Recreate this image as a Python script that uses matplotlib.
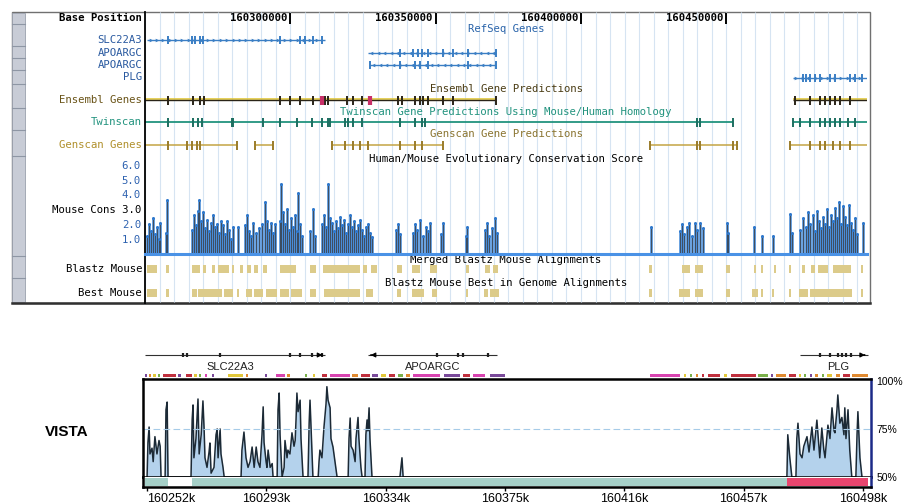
import numpy as np
import matplotlib.pyplot as plt
from matplotlib.patches import Rectangle

W, H = 910, 504
MONO = 'DejaVu Sans Mono'
FS = 7.7

# ── top browser panel (genomic positions in kb) ─────────────────────────────
top_range = (160250.0, 160498.4)
base_ticks = [160300, 160350, 160400, 160450]

slc_span = (160250.7, 160311.9)
slc_exons = [160257.9, 160266.2, 160267.2, 160268.9, 160270.0, 160296.4,
             160303.3, 160305.0, 160307.8, 160310.9]
apo1_span = (160326.7, 160370.7)
apo1_exons = [160337.7, 160342.2, 160343.9, 160345.3, 160347.4, 160352.5,
              160356.0, 160361.1, 160370.7]
apo2_span = (160327.4, 160370.7)
apo2_exons = [160327.4, 160337.7, 160342.9, 160344.6, 160347.4, 160361.1, 160370.7]
plg_span = (160472.9, 160498.4)
plg_exons = [160476.4, 160477.4, 160478.8, 160480.5, 160482.2, 160485.6,
             160487.4, 160492.5, 160494.2, 160496.6]

ens_spans = [(160250.0, 160370.7), (160472.9, 160498.4)]
ens_exons = [160257.9, 160266.5, 160268.9, 160270.3, 160296.4, 160299.9, 160303.3,
             160307.8, 160311.9, 160313.0, 160319.5, 160321.6, 160324.6, 160337.0,
             160338.4, 160342.9, 160344.6, 160345.6, 160347.4, 160352.5, 160356.0,
             160370.7, 160473.6, 160478.8, 160482.2, 160483.9, 160485.6, 160487.4,
             160489.1, 160492.5]
ens_hot = [160310.9, 160327.4]

twin_spans = [(160250.0, 160452.3), (160472.9, 160498.4)]
twin_exons = [160257.9, 160266.5, 160268.2, 160269.6, 160279.9, 160280.3, 160290.6,
              160296.4, 160302.3, 160307.4, 160310.9, 160313.0, 160313.6, 160318.8,
              160319.8, 160321.6, 160324.6, 160337.7, 160342.9, 160345.3, 160346.3,
              160439.9, 160440.9, 160452.3, 160472.9, 160475.3, 160478.8, 160482.2,
              160483.9, 160485.6, 160487.4, 160489.1, 160491.8, 160494.2]

gen_spans = [(160250.0, 160281.6), (160287.8, 160294.0), (160314.3, 160352.5),
             (160423.7, 160453.6), (160471.9, 160498.4)]
gen_exons = [160257.9, 160264.4, 160266.2, 160267.9, 160268.9, 160281.6, 160287.8,
             160294.0, 160314.3, 160318.8, 160321.6, 160324.0, 160326.7, 160337.7,
             160342.9, 160345.3, 160352.5, 160423.7, 160439.9, 160440.9, 160452.3,
             160453.6, 160471.9, 160478.8, 160482.2, 160483.9, 160486.7, 160489.1,
             160492.5]

cons_kb = [160250.7, 160251.4, 160252.1, 160252.8, 160253.4, 160254.1, 160254.8, 160255.2,
           160257.2, 160257.6,
           160266.2, 160266.9, 160267.5, 160268.2, 160268.6, 160269.3, 160270.0, 160270.6,
           160271.3, 160272.0, 160272.7, 160273.4, 160274.1, 160274.8, 160275.5, 160276.1,
           160276.8, 160277.5, 160278.2, 160278.9, 160279.6, 160280.3, 160282.0,
           160284.4, 160285.1, 160285.8, 160286.5, 160287.2, 160288.2, 160289.2, 160290.2,
           160291.3, 160292.0, 160292.7, 160293.3, 160294.0, 160294.7,
           160296.4, 160296.8, 160297.5, 160298.2, 160298.8, 160299.5, 160300.2, 160300.9,
           160301.6, 160302.3, 160302.6, 160303.3, 160304.0,
           160306.8, 160307.8, 160308.5,
           160310.9, 160311.6, 160312.3, 160313.0, 160313.6, 160314.3, 160315.0, 160315.7,
           160316.4, 160317.1, 160317.8, 160318.5, 160319.1, 160319.8, 160320.5, 160321.2,
           160321.9, 160322.6, 160323.3, 160324.0, 160324.6, 160325.3, 160326.0, 160326.7,
           160327.4, 160328.1,
           160336.3, 160337.0, 160337.7,
           160342.2, 160342.9, 160343.6, 160344.6, 160345.6, 160346.7, 160347.4, 160348.0,
           160351.8, 160352.5, 160360.4, 160360.8,
           160367.0, 160367.6, 160368.3, 160369.4, 160370.4, 160371.1,
           160424.1,
           160434.0, 160434.7, 160435.4, 160436.4, 160437.1, 160438.2, 160439.2, 160439.9,
           160440.9, 160442.0,
           160450.2, 160450.6, 160459.5, 160462.2, 160466.0, 160471.9, 160472.6,
           160475.3, 160476.4, 160477.4, 160478.1, 160478.8, 160479.8, 160480.5, 160481.2,
           160481.9, 160482.5, 160483.2, 160483.9, 160484.6, 160485.3, 160486.0, 160486.7,
           160487.4, 160488.0, 160488.7, 160489.4, 160490.1, 160490.8, 160491.5, 160492.2,
           160492.9, 160493.6, 160494.2, 160494.9, 160497.0]
cons_val = [1.2, 2.0, 1.5, 2.4, 1.3, 1.8, 1.0, 2.1,
            1.4, 3.6,
            1.6, 2.6, 1.9, 2.9, 3.6, 2.2, 2.8, 1.7,
            2.3, 1.5, 2.1, 2.6, 1.8, 2.0, 1.4, 2.2,
            1.9, 1.3, 2.2, 1.6, 1.0, 1.8, 1.8,
            1.9, 2.6, 1.5, 1.2, 2.1, 1.4, 1.7, 2.0,
            3.5, 2.2, 1.6, 2.1, 1.4, 2.0,
            2.2, 4.7, 2.8, 2.0, 3.0, 1.6, 2.4, 1.8,
            2.6, 1.5, 4.1, 2.0, 1.2,
            1.5, 3.0, 1.2,
            2.0, 2.6, 1.8, 4.7, 2.4, 2.1, 1.5, 2.2,
            1.7, 2.5, 1.9, 2.3, 1.4, 2.0, 2.6, 1.8,
            2.2, 1.5, 1.9, 2.3, 1.6, 1.2, 1.8, 2.0,
            1.4, 1.1,
            1.6, 2.0, 1.3,
            1.4, 2.0, 1.6, 2.3, 1.2, 1.8, 1.5, 2.1,
            1.3, 2.1, 1.2, 1.8,
            1.6, 2.1, 1.2, 1.7, 2.4, 1.4,
            1.8,
            1.5, 2.0, 1.3, 1.8, 2.1, 1.2, 2.1, 1.6,
            2.1, 1.7,
            2.1, 1.4, 1.8, 1.2, 1.2, 2.7, 1.4,
            1.6, 2.4, 1.8, 2.8, 2.0, 2.6, 1.5, 2.9,
            2.2, 1.7, 2.5, 2.0, 3.0, 1.8, 2.6, 2.2,
            3.1, 2.4, 3.5, 2.0, 3.2, 2.5, 1.9, 3.3,
            2.1, 1.6, 2.4, 1.3, 2.1]

blastz_start = [160250.7, 160257.2, 160266.2, 160270.0, 160273.0, 160275.1, 160279.9, 160282.7,
                160285.1, 160287.5, 160290.6, 160296.4, 160306.8, 160311.2, 160325.0, 160327.7,
                160336.7, 160341.8, 160348.0, 160360.4, 160367.0, 160369.7, 160423.4, 160434.7,
                160439.2, 160449.9, 160459.5, 160461.9, 160466.4, 160471.5, 160476.0, 160479.1,
                160481.5, 160486.7, 160496.3]
blastz_end = [160254.1, 160258.3, 160268.9, 160271.0, 160274.1, 160278.9, 160280.6, 160283.7,
              160286.5, 160288.9, 160292.0, 160301.9, 160308.8, 160324.0, 160326.4, 160329.8,
              160338.4, 160344.6, 160350.4, 160361.5, 160368.7, 160371.4, 160424.4, 160437.5,
              160442.0, 160451.2, 160460.2, 160462.6, 160467.1, 160472.2, 160477.0, 160480.5,
              160485.0, 160492.9, 160497.0]
best_start = [160250.7, 160257.2, 160266.2, 160268.2, 160277.2, 160281.6, 160284.7, 160287.5,
              160291.6, 160296.4, 160300.2, 160306.8, 160311.6, 160326.0, 160336.7, 160341.8,
              160348.7, 160360.4, 160366.6, 160368.7, 160423.4, 160433.7, 160439.2, 160449.9,
              160458.8, 160461.9, 160465.7, 160471.5, 160475.0, 160478.8, 160496.3]
best_end = [160254.1, 160258.3, 160267.9, 160276.5, 160280.3, 160282.3, 160286.8, 160290.6,
            160295.4, 160299.5, 160304.0, 160308.8, 160324.0, 160328.4, 160338.1, 160346.0,
            160350.4, 160361.1, 160368.0, 160371.8, 160424.4, 160437.5, 160442.0, 160451.2,
            160460.9, 160462.6, 160466.4, 160472.2, 160478.1, 160493.2, 160497.0]

# ── VISTA panel (genomic positions in kb, identity in %) ────────────────────
vista_range = (160250.6, 160500.8)
vista_ticks = [160252, 160293, 160334, 160375, 160416, 160457, 160498]
vista_kb = [160252.0, 160252.3, 160252.7, 160253.0, 160253.7, 160254.1, 160254.7, 160255.4,
            160256.1, 160256.5, 160256.8,
            160258.2, 160258.5, 160258.9, 160259.2,
            160267.1, 160267.5, 160267.8, 160268.1, 160268.8, 160269.5, 160269.9, 160270.6,
            160271.2, 160271.6, 160271.9, 160272.6, 160273.3, 160273.6, 160274.0, 160275.0,
            160275.7, 160276.1, 160276.4, 160277.1, 160277.4, 160278.1, 160278.5,
            160284.3, 160284.6, 160285.3, 160286.0, 160286.7, 160287.4, 160288.1, 160288.8,
            160289.5, 160290.1, 160290.8, 160291.5, 160291.9, 160292.2, 160292.9, 160293.2,
            160293.6, 160294.3, 160295.0, 160295.3,
            160296.7, 160297.0, 160297.4, 160297.7, 160298.4, 160299.1, 160299.4, 160300.1,
            160300.4, 160301.1, 160301.8, 160302.5, 160302.9, 160303.2, 160303.5, 160303.9,
            160304.6, 160304.9, 160305.6,
            160307.3, 160307.7, 160308.0, 160308.4, 160309.0,
            160310.8, 160311.1, 160311.4, 160312.1, 160312.8, 160313.5, 160313.8, 160314.2,
            160314.9, 160315.2, 160315.9, 160316.6, 160317.3,
            160321.1, 160321.4, 160321.8, 160322.1, 160322.8, 160323.5, 160323.8, 160324.5,
            160324.8, 160325.5, 160325.9,
            160326.9, 160327.2, 160327.6, 160327.9, 160328.3, 160328.6, 160329.3,
            160338.9, 160339.3, 160339.6, 160340.0,
            160471.9, 160472.2, 160472.9, 160473.6,
            160475.0, 160475.3, 160475.7, 160476.4, 160477.1, 160477.7, 160478.8, 160479.5,
            160480.5, 160481.2, 160482.2, 160482.9, 160483.2, 160483.9, 160484.6, 160485.0,
            160486.0, 160486.7, 160487.4, 160488.1, 160488.4, 160489.1, 160489.4, 160490.1,
            160490.8, 160491.5, 160491.8, 160492.2, 160492.9, 160493.5, 160494.2,
            160495.6, 160496.0, 160496.3, 160497.0, 160497.7]
vista_pct = [50, 68, 76, 62, 65, 58, 71, 62,
             69, 66, 50,
             50, 85, 89, 50,
             50, 80, 87.5, 60, 70, 90.6, 62, 72,
             89.6, 75, 60, 55, 63, 67.7, 52, 55,
             72, 75, 60, 75, 62, 55, 50,
             50, 64, 73.4, 60, 55, 58, 65.6, 55,
             65.6, 58, 55, 72, 86.5, 68, 58, 55,
             64, 55, 57, 50,
             50, 85, 93.7, 72, 50, 55, 69, 60,
             64, 62, 73, 66, 69, 80, 93.7, 84,
             90, 70, 50,
             50, 78, 90, 74, 50,
             50, 58, 64, 60, 76, 88, 97, 90,
             86, 70, 65.6, 58, 50,
             50, 70, 80.7, 66, 64, 58, 70, 81,
             70, 55, 50,
             50, 72, 79.7, 74, 86, 70, 50,
             50, 56, 60, 50,
             50, 72, 60, 50,
             50, 70, 78, 62, 60, 66, 71, 63,
             76, 64, 79.6, 66, 60, 75.5, 64, 60,
             77, 70, 86, 74, 73, 85, 92.7, 78,
             81, 72, 86, 70, 85, 64, 50,
             50, 72, 84, 60, 50]

vgene_names = ['SLC22A3', 'APOARGC', 'PLG']
vgene_start = [160251.3, 160327.9, 160476.4]
vgene_end = [160313.2, 160372.3, 160499.7]
vgene_strand = [1, -1, 1]
vgene_exons = [[160264.4, 160265.7, 160277.1, 160301.1, 160304.6, 160308.7, 160312.1],
               [160351.6, 160358.9, 160360.6, 160369.2],
               [160483.2, 160486.7, 160489.4, 160490.8, 160492.2, 160494.0]]
vgene_label_kb = [160280.5, 160350.3, 160489.4]

rpt_start = [160251.3, 160252.7, 160254.1, 160255.8, 160257.5, 160262.7, 160265.4, 160268.1,
             160269.9, 160271.9, 160274.3, 160279.8, 160286.0, 160292.5, 160296.3, 160300.1,
             160306.3, 160309.0, 160312.1, 160314.9, 160322.4, 160325.5, 160329.3, 160332.4,
             160335.2, 160338.2, 160341.0, 160343.4, 160354.0, 160360.6, 160364.0, 160369.9,
             160424.8, 160436.5, 160438.6, 160440.6, 160442.7, 160444.8, 160450.3, 160452.7,
             160461.9, 160466.4, 160468.1, 160472.6, 160476.0, 160477.7, 160479.8, 160481.5,
             160483.9, 160485.7, 160488.7, 160491.1, 160494.2]
rpt_end = [160252.0, 160253.4, 160255.1, 160256.5, 160262.0, 160263.7, 160267.5, 160269.2,
           160270.6, 160272.6, 160275.0, 160285.0, 160286.7, 160293.2, 160299.4, 160301.1,
           160307.0, 160309.7, 160313.8, 160321.8, 160324.5, 160328.6, 160331.4, 160334.1,
           160337.2, 160340.0, 160342.4, 160352.7, 160359.5, 160363.0, 160368.1, 160375.0,
           160435.1, 160437.2, 160439.3, 160441.3, 160443.4, 160448.9, 160451.3, 160461.3,
           160465.4, 160467.1, 160471.6, 160475.0, 160476.7, 160478.4, 160480.5, 160482.6,
           160484.6, 160487.4, 160490.1, 160493.6, 160499.7]
rpt_kind = ['purple', 'orange', 'yellow', 'green', 'crimson', 'purple', 'crimson', 'yellow',
            'green', 'magenta', 'purple', 'yellow', 'orange', 'purple', 'magenta', 'orange',
            'green', 'yellow', 'crimson', 'magenta', 'orange', 'crimson', 'purple', 'yellow',
            'crimson', 'green', 'orange', 'magenta', 'purple', 'crimson', 'magenta', 'purple',
            'magenta', 'yellow', 'green', 'orange', 'crimson', 'crimson', 'yellow', 'crimson',
            'green', 'purple', 'orange', 'crimson', 'yellow', 'green', 'purple', 'orange',
            'green', 'yellow', 'orange', 'crimson', 'orange']
rpt_colors = {'purple': '#7a4a9a', 'orange': '#e08a30', 'yellow': '#e2c83a',
              'green': '#7ab04a', 'crimson': '#c0303e', 'magenta': '#d844b0'}

strip_start = [160251.3, 160267.5, 160471.9]
strip_end = [160259.2, 160471.9, 160499.7]
strip_kind = ['#a6d0c8', '#a6d0c8', '#e8466e']

# ── figure ──────────────────────────────────────────────────────────────────
fig = plt.figure(figsize=(W / 100, H / 100), dpi=100)


def px_rect(x0, y0, x1, y1):
    return [x0 / W, 1 - y1 / H, (x1 - x0) / W, (y1 - y0) / H]


bg = fig.add_axes([0, 0, 1, 1])
bg.set_xlim(0, W)
bg.set_ylim(H, 0)
bg.axis('off')
bg.add_patch(Rectangle((12, 12), 858, 291, fc='white', ec='#707070', lw=1.0))
bg.plot([12, 870], [303, 303], color='#303030', lw=1.8)
bg.add_patch(Rectangle((12, 13), 13, 289, fc='#c8ccd6', ec='#9aa0ac', lw=0.6))
for yb in [24, 46, 58, 70, 84, 108, 130, 156, 256, 278]:
    bg.plot([12, 25], [yb, yb], color='#8e96a4', lw=0.8)
bg.text(67, 432, 'VISTA', ha='center', va='center', fontsize=11,
        fontweight='bold', family='Liberation Sans')

# ── top panel tracks ────────────────────────────────────────────────────────
ax = fig.add_axes(px_rect(145, 12, 867, 303))
ax.set_xlim(*top_range)
ax.set_ylim(303, 12)
ax.patch.set_alpha(0)
for s in ['top', 'right', 'bottom']:
    ax.spines[s].set_visible(False)
ax.spines['left'].set_linewidth(1.3)
ax.set_xticks([])
ax.set_yticks([])
ax.vlines(np.arange(160250, 160499, 5), 12, 302, color='#d6e4f2', lw=0.8, zorder=0)

# row layout (pixel rows)
Y_BASE, Y_REF_T, Y_SLC, Y_APO1, Y_APO2, Y_PLG = 18, 29, 40, 52.5, 65, 77.5
Y_ENS_T, Y_ENS, Y_TW_T, Y_TW, Y_GEN_T, Y_GEN = 89, 100, 112, 122, 134, 145
Y_CONS_T, Y_BLZ_T, Y_BLZ, Y_BEST_T, Y_BEST = 159, 260, 269, 283, 293


def left_label(a, y, s, color='black', weight='normal'):
    a.annotate(s, xy=(0, y), xycoords=a.get_yaxis_transform(), xytext=(-3, 0),
               textcoords='offset pixels', ha='right', va='center', color=color,
               family=MONO, fontsize=FS, fontweight=weight)


def title(a, y, s, color='black'):
    a.text(0.5, y, s, transform=a.get_yaxis_transform(), ha='center', va='center',
           color=color, family=MONO, fontsize=FS)


left_label(ax, Y_BASE, 'Base Position', weight='bold')
for t in base_ticks:
    ax.annotate(f'{t * 1000}', xy=(t, Y_BASE), xytext=(-3, 0), textcoords='offset pixels',
                ha='right', va='center', family=MONO, fontsize=FS, fontweight='bold')
ax.vlines(base_ticks, 13, 24, color='black', lw=1.4)

# RefSeq genes
blue = '#3a7ec4'
title(ax, Y_REF_T, 'RefSeq Genes', '#2a64aa')
for y, span, ex, name, d in [(Y_SLC, slc_span, slc_exons, 'SLC22A3', '>'),
                             (Y_APO1, apo1_span, apo1_exons, 'APOARGC', '<'),
                             (Y_APO2, apo2_span, apo2_exons, 'APOARGC', '<'),
                             (Y_PLG, plg_span, plg_exons, 'PLG', '>')]:
    left_label(ax, y, name, '#2a5aa0')
    ax.hlines(y, *span, color=blue, lw=1.0)
    chev = np.arange(span[0] + 1.2, span[1] - 0.6, 2.2)
    ax.plot(chev, np.full(len(chev), y), ls='none', marker=d, ms=2.6, mew=0, color=blue)
    ax.vlines(ex, y - 4, y + 4, color=blue, lw=1.4)

# Ensembl
title(ax, Y_ENS_T, 'Ensembl Gene Predictions', '#4a3c14')
left_label(ax, Y_ENS, 'Ensembl Genes', '#6a5418')
for s, e in ens_spans:
    ax.hlines(Y_ENS - 1.2, s, e, color='#e2c83e', lw=1.2)
    ax.hlines(Y_ENS + 0.4, s, e, color='#2a2418', lw=1.0)
ax.vlines(ens_exons, Y_ENS - 4.5, Y_ENS + 4.5, color='#2a2418', lw=1.4)
ax.vlines(ens_hot, Y_ENS - 4.5, Y_ENS + 4.5, color='#c83068', lw=3)

# Twinscan
teal = '#22937e'
title(ax, Y_TW_T, 'Twinscan Gene Predictions Using Mouse/Human Homology', teal)
left_label(ax, Y_TW, 'Twinscan', teal)
for s, e in twin_spans:
    ax.hlines(Y_TW, s, e, color=teal, lw=1.3)
ax.vlines(twin_exons, Y_TW - 4.5, Y_TW + 4.5, color='#1c6e60', lw=1.4)

# Genscan
gold = '#c4a444'
title(ax, Y_GEN_T, 'Genscan Gene Predictions', '#8a7430')
left_label(ax, Y_GEN, 'Genscan Genes', '#b0902c')
for s, e in gen_spans:
    ax.hlines(Y_GEN, s, e, color=gold, lw=1.1)
ax.vlines(gen_exons, Y_GEN - 4.5, Y_GEN + 4.5, color='#9a7c2a', lw=1.4)

# conservation title and Blastz tracks
title(ax, Y_CONS_T, 'Human/Mouse Evolutionary Conservation Score')
title(ax, Y_BLZ_T, 'Merged Blastz Mouse Alignments')
title(ax, Y_BEST_T, 'Blastz Mouse Best in Genome Alignments')
left_label(ax, Y_BLZ, 'Blastz Mouse')
left_label(ax, Y_BEST, 'Best Mouse')
tan = '#dccb8a'
ax.broken_barh([(s, e - s) for s, e in zip(blastz_start, blastz_end)], (Y_BLZ - 4, 8),
               color=tan, lw=0)
ax.broken_barh([(s, e - s) for s, e in zip(best_start, best_end)], (Y_BEST - 4, 8),
               color=tan, lw=0)

# conservation score plot
ac = fig.add_axes(px_rect(145, 158, 867, 253.5))
ac.set_xlim(*top_range)
ac.set_ylim(0, 6.47)
ac.patch.set_alpha(0)
for s in ac.spines.values():
    s.set_visible(False)
ac.set_xticks([])
ac.set_yticks([1, 2, 3, 4, 5, 6])
ac.set_yticklabels(['1.0', '2.0', 'Mouse Cons 3.0', '4.0', '5.0', '6.0'],
                   family=MONO, fontsize=FS)
for lab in ac.get_yticklabels():
    lab.set_color('black' if 'Mouse' in lab.get_text() else '#2e62b0')
ac.tick_params(axis='y', length=0, pad=3)
ac.vlines(cons_kb, 0, cons_val, color='#3f86d6', lw=2.1, alpha=0.8)
ac.vlines(cons_kb, 0, cons_val, color='#38404a', lw=0.6)
ac.plot(cons_kb, cons_val, ls='none', marker='o', ms=2.2, mew=0, color='#2f78cc')
ac.axhline(0, color='#4a92e6', lw=2.2, clip_on=False)

# ── VISTA panel ─────────────────────────────────────────────────────────────
ag = fig.add_axes(px_rect(143, 342, 871, 379))
ag.set_xlim(*vista_range)
ag.set_ylim(379, 342)
ag.axis('off')
for name, s, e, strand, ex, lx in zip(vgene_names, vgene_start, vgene_end, vgene_strand,
                                      vgene_exons, vgene_label_kb):
    ag.hlines(355, s, e, color='#303030', lw=0.8)
    ag.vlines(ex, 353, 357, color='#202020', lw=1.6)
    tip, tail = (e, e - 2.0) if strand > 0 else (s, s + 2.0)
    ag.annotate('', xy=(tip, 355), xytext=(tail, 355),
                arrowprops=dict(arrowstyle='-|>', color='black', lw=0.8,
                                mutation_scale=7))
    ag.text(lx, 366.5, name, ha='center', va='center', fontsize=8,
            family='Liberation Sans', color='#202020')
for s, e, k in zip(rpt_start, rpt_end, rpt_kind):
    ag.broken_barh([(s, e - s)], (373.5, 3.5), color=rpt_colors[k], lw=0)

av = fig.add_axes(px_rect(143, 379, 871, 477))
av.set_xlim(*vista_range)
av.set_ylim(50, 101)
av.fill_between(vista_kb, 50, vista_pct, color='#b4d2ec', lw=0)
av.plot(vista_kb, vista_pct, color='#1c2a36', lw=1.1)
av.axhline(75, color='#a6cbe8', lw=0.8, ls=(0, (6, 3)))
for s in av.spines.values():
    s.set_linewidth(1.8)
av.spines['right'].set_color('#1c2a88')
av.set_xticks([])
av.yaxis.tick_right()
av.set_yticks([50, 75, 100])
av.set_yticklabels(['50%', '75%', '100%'], family='Liberation Sans', fontsize=7.5)
av.tick_params(axis='y', length=0, pad=4)

ast = fig.add_axes(px_rect(143, 477, 871, 487))
ast.set_xlim(*vista_range)
ast.set_ylim(0, 1)
ast.broken_barh([(s, e - s) for s, e in zip(strip_start, strip_end)], (0.12, 0.76),
                color=strip_kind, lw=0)
ast.spines['top'].set_visible(False)
for s in ['left', 'right', 'bottom']:
    ast.spines[s].set_linewidth(1.8)
ast.spines['right'].set_color('#1c2a88')
ast.set_yticks([])
ast.set_xticks(vista_ticks)
ast.set_xticklabels([f'{t}k' for t in vista_ticks], family='Liberation Sans', fontsize=9)
ast.tick_params(axis='x', length=3, width=1, pad=1, direction='out')
ast.get_xticklabels()[0].set_ha('left')

fig.savefig('out.png', dpi=100)
